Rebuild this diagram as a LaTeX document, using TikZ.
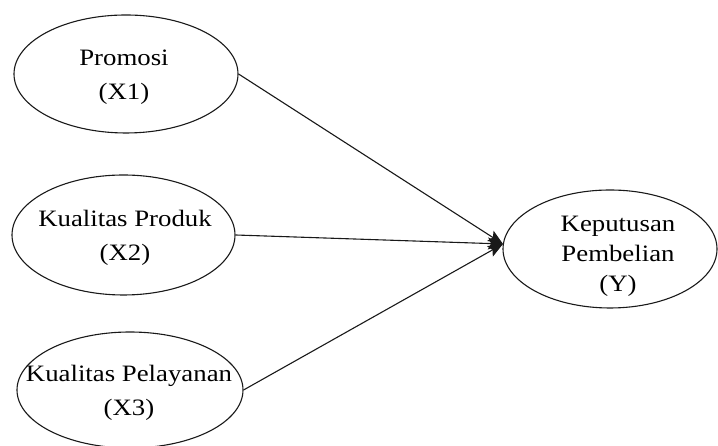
\documentclass[tikz,border=0pt]{standalone}
\usepackage{fontspec}
\setmainfont{Liberation Serif}[FakeStretch=1.14]
\usetikzlibrary{shapes.geometric,arrows.meta}
\begin{document}
\begin{tikzpicture}[x=1bp,y=1bp,
  latent/.style={draw=black!90, ellipse, line width=1.1bp, inner sep=0pt},
  txt/.style={align=center, inner sep=0pt, text=black, font=\fontsize{23.5bp}{34bp}\selectfont},
  path/.style={draw=black!90, line width=1.1bp, -{Stealth[length=15bp,width=12bp,inset=3bp]}}]
\useasboundingbox (0,0) rectangle (718,446);
\node[latent, minimum width=224bp, minimum height=118bp] (X1) at (126,372) {};
\node[latent, minimum width=223bp, minimum height=120bp] (X2) at (123.5,211) {};
\node[latent, minimum width=226bp, minimum height=116bp] (X3) at (130,56) {};
\node[latent, minimum width=214bp, minimum height=118bp] (Y) at (610,197) {};
\node[txt] (tX1) at (124,369) {Promosi\\(X1)};
\node[txt] (tX2) at (125,208) {Kualitas Produk\\(X2)};
\node[txt] (tX3) at (129,53) {Kualitas Pelayanan\\(X3)};
\node[txt, font=\fontsize{23.5bp}{30bp}\selectfont] (tY) at (618,190) {Keputusan\\Pembelian\\(Y)};
\coordinate (tip) at (503,202);
\draw[path] (X1.east) -- (tip);
\draw[path] (X2.east) -- (tip);
\draw[path] (X3.east) -- (tip);
\end{tikzpicture}
\end{document}
